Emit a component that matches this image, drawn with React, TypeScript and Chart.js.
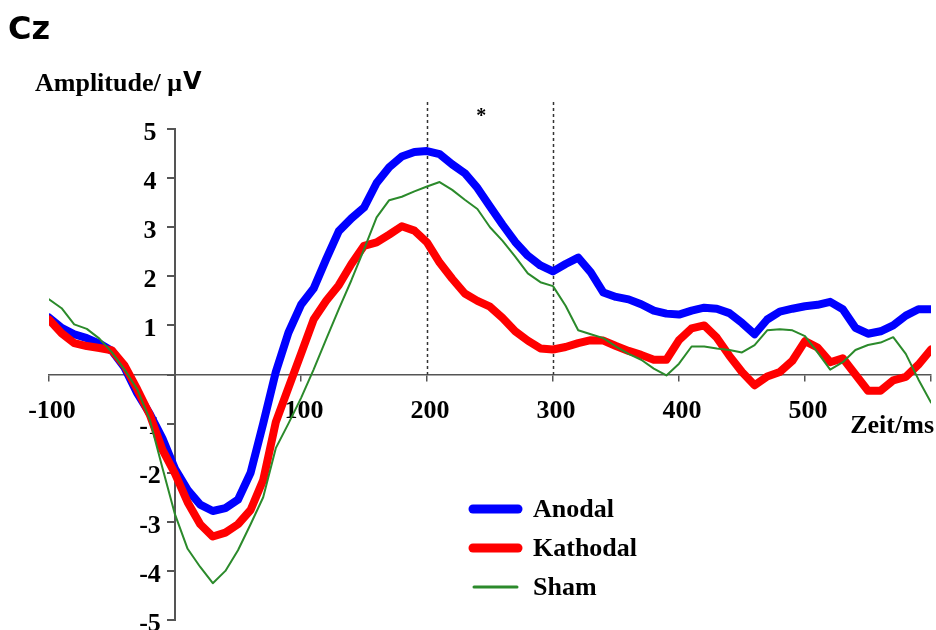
import React, { useEffect, useRef } from 'react';
import { Chart, registerables } from 'chart.js';

Chart.register(...registerables);

// ---- data ----
const TIME_MS = [
  -100, -90, -80, -70, -60, -50, -40, -30, -20, -10,
  0, 10, 20, 30, 40, 50, 60, 70, 80, 90,
  100, 110, 120, 130, 140, 150, 160, 170, 180, 190,
  200, 210, 220, 230, 240, 250, 260, 270, 280, 290,
  300, 310, 320, 330, 340, 350, 360, 370, 380, 390,
  400, 410, 420, 430, 440, 450, 460, 470, 480, 490,
  500, 510, 520, 530, 540, 550, 560, 570, 580, 590,
  600,
];

const ANODAL = [
  1.16, 0.95, 0.82, 0.74, 0.63, 0.48, 0.14, -0.38, -0.8, -1.3,
  -1.92, -2.35, -2.65, -2.78, -2.72, -2.55, -2.0, -1.0, 0.05, 0.85,
  1.42, 1.75, 2.35, 2.92, 3.18, 3.4, 3.9, 4.22, 4.44, 4.53,
  4.55, 4.49, 4.28, 4.1, 3.8, 3.42, 3.05, 2.7, 2.42, 2.22,
  2.1, 2.25, 2.38, 2.08, 1.67, 1.58, 1.53, 1.43, 1.3, 1.24,
  1.22, 1.3, 1.36, 1.34, 1.25, 1.05, 0.82, 1.12, 1.28, 1.34,
  1.39, 1.42, 1.48, 1.33, 0.95, 0.83, 0.88, 1.0, 1.2, 1.33,
  1.33,
];

const KATHODAL = [
  1.12, 0.84, 0.64, 0.58, 0.54, 0.49, 0.18, -0.3, -0.82, -1.53,
  -2.02, -2.6, -3.05, -3.3, -3.22, -3.05, -2.76, -2.15, -0.97, -0.27,
  0.42, 1.12, 1.5, 1.82, 2.25, 2.62, 2.69, 2.85, 3.02, 2.93,
  2.69, 2.28, 1.95, 1.65, 1.5, 1.38, 1.15, 0.88, 0.69, 0.53,
  0.51, 0.56, 0.64, 0.7, 0.69, 0.58, 0.48, 0.4, 0.3, 0.3,
  0.7, 0.94, 1.0, 0.75, 0.38, 0.05, -0.22, -0.04, 0.05, 0.28,
  0.68, 0.55, 0.25, 0.33, 0.0, -0.33, -0.33, -0.12, -0.05, 0.2,
  0.51,
];

const SHAM = [
  1.53, 1.35, 1.02, 0.93, 0.73, 0.45, 0.1, -0.3, -0.92, -1.9,
  -2.85, -3.55, -3.92, -4.25, -4.0, -3.58, -3.05, -2.5, -1.5, -1.0,
  -0.48, 0.1, 0.72, 1.33, 1.92, 2.55, 3.2, 3.55, 3.62, 3.73,
  3.83, 3.92, 3.76, 3.56, 3.37, 3.0, 2.72, 2.4, 2.06, 1.88,
  1.8, 1.4, 0.9, 0.82, 0.74, 0.57, 0.42, 0.3, 0.12, -0.02,
  0.22, 0.57, 0.57, 0.53, 0.5, 0.45, 0.6, 0.9, 0.92, 0.9,
  0.78, 0.45, 0.1, 0.25, 0.5, 0.6, 0.65, 0.76, 0.42, -0.1,
  -0.57,
];

const SERIES_NAMES = ['Anodal', 'Kathodal', 'Sham'];
const SERIES_COLORS = ['#0000ff', '#ff0000', '#2b8a2b'];
const SERIES_WIDTHS = [8, 8, 2];

const X_TICK_LABELS = ['-100', '100', '200', '300', '400', '500'];
const Y_TICK_LABELS = ['5', '4', '3', '2', '1', '-1', '-2', '-3', '-4', '-5'];
const X_MIN = -100;
const X_MAX = 600;
const Y_MIN = -5;
const Y_MAX = 5;

const WINDOW_MS = [200, 300];
const WINDOW_TOP = 5.55;
const STAR_MS = 243;
const STAR_VALUE = 5.25;

const TITLE = 'Cz';
const Y_TITLE_MAIN = 'Amplitude/ μ';
const Y_TITLE_UNIT = 'V';
const X_TITLE = 'Zeit/ms';

const SERIF = "'Liberation Serif', 'Times New Roman', serif";
const SANS = "'DejaVu Sans', Verdana, sans-serif";
const LABEL_FONT = `bold 26px ${SERIF}`;

function toPoints(values: number[]) {
  return TIME_MS.map((t, i) => ({ x: t, y: values[i] }));
}

const overlayPlugin = {
  id: 'overlay',
  beforeDatasetsDraw(chart: any) {
    const { ctx, scales } = chart;
    const x = scales.x;
    const y = scales.y;
    ctx.save();
    const axisX = x.getPixelForValue(0);
    const axisY = y.getPixelForValue(0);
    ctx.fillStyle = '#000';
    ctx.font = LABEL_FONT;
    ctx.textAlign = 'center';
    ctx.textBaseline = 'middle';
    // y tick labels, centred left of the y axis (drawn under the curves)
    for (const tick of y.ticks) {
      const label = String(tick.value);
      if (!Y_TICK_LABELS.includes(label)) continue;
      ctx.fillText(label, axisX - 25, y.getPixelForValue(tick.value) + 4);
    }
    // x tick labels below the x axis
    for (const tick of x.ticks) {
      const label = String(tick.value);
      if (!X_TICK_LABELS.includes(label)) continue;
      ctx.fillText(label, x.getPixelForValue(tick.value) + 3, axisY + 37);
    }
    // dotted window lines
    ctx.strokeStyle = '#333333';
    ctx.lineWidth = 1.5;
    ctx.setLineDash([3, 3]);
    for (const t of WINDOW_MS) {
      const px = Math.round(x.getPixelForValue(t)) + 0.5;
      ctx.beginPath();
      ctx.moveTo(px, y.getPixelForValue(WINDOW_TOP));
      ctx.lineTo(px, axisY);
      ctx.stroke();
    }
    ctx.restore();
  },
  afterDraw(chart: any) {
    const { ctx, scales } = chart;
    const x = scales.x;
    const y = scales.y;
    ctx.save();
    ctx.fillStyle = '#000';
    ctx.textBaseline = 'alphabetic';
    // title
    ctx.font = `bold 32px ${SANS}`;
    ctx.textAlign = 'left';
    ctx.fillText(TITLE, 8, 39);
    // y title (serif text, sans "V" as in the source)
    ctx.font = LABEL_FONT;
    ctx.fillText(Y_TITLE_MAIN, 35, 91);
    const w = ctx.measureText(Y_TITLE_MAIN).width;
    ctx.font = `bold 24px ${SANS}`;
    ctx.fillText(Y_TITLE_UNIT, 35 + w + 1, 89);
    // x title
    ctx.font = LABEL_FONT;
    ctx.textAlign = 'right';
    ctx.fillText(X_TITLE, 934, 433);
    // star
    ctx.textAlign = 'center';
    ctx.textBaseline = 'middle';
    ctx.font = `bold 20px ${SERIF}`;
    ctx.fillText('*', x.getPixelForValue(STAR_MS), y.getPixelForValue(STAR_VALUE));
    // legend
    const legendY = [509, 548, 587];
    ctx.lineCap = 'round';
    SERIES_NAMES.forEach((name, i) => {
      ctx.strokeStyle = SERIES_COLORS[i];
      ctx.lineWidth = SERIES_WIDTHS[i] + 1;
      ctx.beginPath();
      ctx.moveTo(i === 2 ? 474 : 473, legendY[i]);
      ctx.lineTo(i === 2 ? 517 : 518, legendY[i]);
      ctx.stroke();
      ctx.fillStyle = '#000';
      ctx.textAlign = 'left';
      ctx.textBaseline = 'middle';
      ctx.font = LABEL_FONT;
      ctx.fillText(name, 533, legendY[i] + 1);
    });
    ctx.restore();
  },
};

export default function App() {
  const canvasRef = useRef<HTMLCanvasElement | null>(null);

  useEffect(() => {
    const canvas = canvasRef.current;
    if (!canvas) return;
    const chart = new Chart(canvas, {
      type: 'line',
      data: {
        datasets: SERIES_NAMES.map((name, i) => ({
          label: name,
          data: toPoints([ANODAL, KATHODAL, SHAM][i]),
          borderColor: SERIES_COLORS[i],
          backgroundColor: SERIES_COLORS[i],
          borderWidth: SERIES_WIDTHS[i],
          pointRadius: 0,
          tension: 0,
          borderJoinStyle: 'round',
          borderCapStyle: 'round',
          order: 3 - i,
          fill: false,
        })),
      },
      options: {
        responsive: false,
        animation: false,
        devicePixelRatio: 1,
        layout: { padding: { left: 49, right: 5, top: 129, bottom: 10 } },
        plugins: { legend: { display: false }, tooltip: { enabled: false } },
        scales: {
          x: {
            type: 'linear',
            min: X_MIN,
            max: X_MAX,
            position: { y: 0 },
            grid: { drawOnChartArea: false, drawTicks: true, tickLength: 6, color: '#555555', lineWidth: 1.5 },
            border: { display: true, color: '#555555', width: 1.5 },
            ticks: { stepSize: 100, autoSkip: false, display: false },
          },
          y: {
            type: 'linear',
            min: Y_MIN,
            max: Y_MAX,
            position: { x: 0 },
            grid: { drawOnChartArea: false, drawTicks: true, tickLength: 7, color: '#555555', lineWidth: 2 },
            border: { display: true, color: '#555555', width: 2 },
            ticks: { stepSize: 1, autoSkip: false, display: false },
          },
        },
      },
      plugins: [overlayPlugin],
    } as any);
    return () => chart.destroy();
  }, []);

  return (
    <div style={{ position: 'absolute', left: 0, top: 0, width: 936, height: 630, background: '#fff' }}>
      <canvas ref={canvasRef} width={936} height={630} />
    </div>
  );
}
